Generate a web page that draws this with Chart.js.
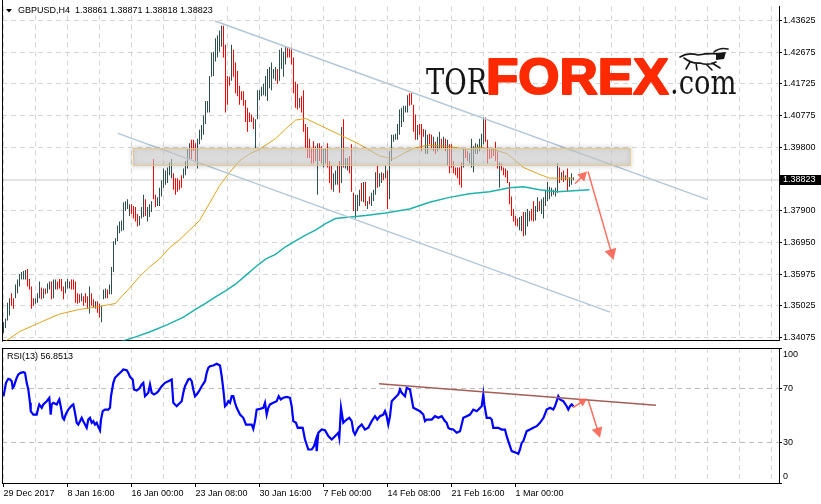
<!DOCTYPE html>
<html>
<head>
<meta charset="utf-8">
<title>GBPUSD H4</title>
<script src="https://cdn.jsdelivr.net/npm/chart.js@4.4.1/dist/chart.umd.min.js"></script>
<style>
html,body{margin:0;padding:0;background:#fff;overflow:hidden;}
#main{position:absolute;left:0;top:0;width:821px;height:347px;}
#sub{position:absolute;left:0;top:348px;width:821px;height:156px;}
</style>
</head>
<body>
<div id="main"><canvas id="c1"></canvas></div>
<div id="sub"><canvas id="c2"></canvas></div>
<script>
// ---------------- data ----------------
const symbol = 'GBPUSD,H4';
const ohlc = ['1.38861', '1.38871', '1.38818', '1.38823'];
const lastPrice = 1.38823;
const rsiName = 'RSI(13)';
const rsiLast = '56.8513';
const timeLabels = ['29 Dec 2017', '8 Jan 16:00', '16 Jan 00:00', '23 Jan 08:00', '30 Jan 16:00',
  '7 Feb 00:00', '14 Feb 08:00', '21 Feb 16:00', '1 Mar 00:00'];
const priceTicks = [1.43625, 1.42675, 1.41725, 1.40775, 1.39800, 1.37900, 1.36950, 1.35975, 1.35025, 1.34075];
const rsiTicks = [100, 70, 30, 0];

const highs = [
1.3453,1.3465,1.3512,1.3526,1.3541,1.3526,1.3567,1.3582,1.3599,1.3605,
1.3608,1.3611,1.3614,1.3584,1.3561,1.3526,1.3526,1.3541,1.3576,1.3558,
1.3555,1.3555,1.3570,1.3576,1.3576,1.3582,1.3582,1.3576,1.3584,1.3584,
1.3561,1.3576,1.3584,1.3576,1.3582,1.3582,1.3576,1.3541,1.3538,1.3541,
1.3532,1.3541,1.3532,1.3561,1.3541,1.3523,1.3517,1.3517,1.3509,1.3503,
1.3552,1.3555,1.3552,1.3567,1.3620,1.3698,1.3707,1.3745,1.3757,1.3760,
1.3815,1.3818,1.3824,1.3809,1.3809,1.3804,1.3801,1.3780,1.3774,1.3801,
1.3838,1.3824,1.3801,1.3809,1.3818,1.3946,1.3838,1.3830,1.3859,1.3882,
1.3917,1.3911,1.3920,1.3935,1.3946,1.3903,1.3888,1.3888,1.3882,1.3897,
1.3917,1.3940,1.3975,1.3993,1.4004,1.4004,1.3993,1.4007,1.4034,1.4048,
1.4077,1.4121,1.4121,1.4196,1.4266,1.4269,1.4310,1.4319,1.4333,1.4348,
1.4348,1.4290,1.4196,1.4194,1.4290,1.4275,1.4237,1.4211,1.4167,1.4150,
1.4150,1.4124,1.4100,1.4086,1.4080,1.4071,1.4066,1.4153,1.4153,1.4164,
1.4173,1.4196,1.4217,1.4223,1.4237,1.4217,1.4223,1.4217,1.4275,1.4281,
1.4269,1.4284,1.4281,1.4281,1.4281,1.4252,1.4179,1.4173,1.4130,1.4135,
1.4153,1.4051,1.4042,1.4007,1.3978,1.3999,1.3984,1.3993,1.3993,1.3984,
1.3978,1.3978,1.3993,1.3940,1.3926,1.3903,1.3911,1.3926,1.3940,1.4042,
1.4066,1.3949,1.3949,1.3955,1.3990,1.3844,1.3838,1.3838,1.3853,1.3873,
1.3876,1.3876,1.3818,1.3833,1.3844,1.3853,1.3906,1.3926,1.3903,1.3906,
1.3903,1.3926,1.3911,1.3969,1.4019,1.4019,1.4022,1.4051,1.4095,1.4100,
1.4106,1.4106,1.4138,1.4144,1.4144,1.4109,1.4080,1.4048,1.4051,1.4051,
1.4036,1.4034,1.4019,1.4022,1.4019,1.4013,1.3998,1.4013,1.4028,1.4007,
1.4013,1.4007,1.4004,1.3990,1.3990,1.3940,1.3920,1.3920,1.3920,1.3935,
1.3978,1.3975,1.3969,1.3964,1.4007,1.3984,1.3993,1.3990,1.4007,1.4022,
1.4071,1.4071,1.4004,1.3975,1.3978,1.3978,1.3998,1.3969,1.3935,1.3932,
1.3920,1.3917,1.3911,1.3876,1.3833,1.3795,1.3774,1.3766,1.3771,1.3774,
1.3786,1.3786,1.3795,1.3789,1.3795,1.3818,1.3804,1.3830,1.3818,1.3824,
1.3830,1.3853,1.3876,1.3862,1.3859,1.3853,1.3859,1.3932,1.3920,1.3906,
1.3911,1.3897,1.3917,1.3891,1.3903,1.3891];

const lows = [
1.3421,1.3436,1.3459,1.3474,1.3503,1.3494,1.3526,1.3541,1.3561,1.3582,
1.3582,1.3582,1.3561,1.3552,1.3494,1.3503,1.3509,1.3512,1.3526,1.3523,
1.3526,1.3538,1.3541,1.3552,1.3523,1.3526,1.3552,1.3552,1.3555,1.3547,
1.3523,1.3541,1.3555,1.3555,1.3552,1.3552,1.3512,1.3509,1.3512,1.3517,
1.3503,1.3512,1.3494,1.3480,1.3503,1.3497,1.3494,1.3482,1.3468,1.3453,
1.3523,1.3526,1.3526,1.3538,1.3538,1.3605,1.3687,1.3698,1.3722,1.3728,
1.3731,1.3789,1.3795,1.3774,1.3780,1.3766,1.3757,1.3742,1.3745,1.3766,
1.3771,1.3774,1.3757,1.3771,1.3786,1.3824,1.3801,1.3804,1.3804,1.3833,
1.3859,1.3868,1.3873,1.3897,1.3888,1.3853,1.3838,1.3847,1.3853,1.3859,
1.3888,1.3897,1.3917,1.3946,1.3946,1.3970,1.3940,1.3917,1.3990,1.4004,
1.4019,1.4051,1.4086,1.4086,1.4194,1.4196,1.4240,1.4252,1.4269,1.4284,
1.4252,1.4086,1.4109,1.4167,1.4182,1.4194,1.4144,1.4135,1.4109,1.4124,
1.4106,1.4057,1.4028,1.4057,1.4057,1.4036,1.3978,1.4066,1.4124,1.4135,
1.4138,1.4135,1.4121,1.4159,1.4153,1.4188,1.4182,1.4173,1.4182,1.4217,
1.4194,1.4231,1.4252,1.4252,1.4231,1.4144,1.4100,1.4095,1.4100,1.4086,
1.4028,1.3978,1.3949,1.3949,1.3932,1.3932,1.3940,1.3838,1.3940,1.3932,
1.3920,1.3932,1.3920,1.3873,1.3853,1.3847,1.3868,1.3868,1.3844,1.3873,
1.3920,1.3917,1.3911,1.3903,1.3847,1.3789,1.3766,1.3789,1.3804,1.3818,
1.3815,1.3804,1.3795,1.3809,1.3804,1.3818,1.3838,1.3859,1.3862,1.3873,
1.3882,1.3888,1.3795,1.3824,1.3940,1.3998,1.4004,1.4004,1.4019,1.4042,
1.4057,1.4086,1.4086,1.4106,1.4109,1.4028,1.4004,1.4004,1.4019,1.3969,
1.4013,1.3961,1.3961,1.3990,1.3975,1.3969,1.3961,1.3969,1.3975,1.3978,
1.3978,1.3969,1.3926,1.3903,1.3920,1.3903,1.3897,1.3888,1.3868,1.3859,
1.3920,1.3949,1.3940,1.3932,1.3920,1.3906,1.3961,1.3961,1.3969,1.3978,
1.3990,1.3998,1.3932,1.3946,1.3949,1.3955,1.3940,1.3917,1.3859,1.3911,
1.3897,1.3891,1.3873,1.3809,1.3774,1.3757,1.3745,1.3742,1.3731,1.3728,
1.3713,1.3716,1.3742,1.3757,1.3760,1.3757,1.3760,1.3786,1.3789,1.3780,
1.3766,1.3804,1.3818,1.3824,1.3833,1.3838,1.3833,1.3844,1.3873,1.3882,
1.3876,1.3882,1.3847,1.3862,1.3868,1.3882];

// u = bullish bar, d = bearish bar
const dirs = [
'uuuudduuuu','uudddduuud','uduuduuddd','duuudddddu','dddudduddu',
'uuduuuuuuu','uuuudddduu','uduuudduuu','uuuuuddddd','uuuuddduuu',
'uuuuuuuuuu','dddduddddd','dddddduuuu','uuuuuuuduu','uuddddddud',
'dddddddudd','uuddduuudu','duuddduuud','ududuuuduu','duduuuuuuu',
'uuuddddudd','duudduduud','ududdddddd','udduuuuuuu','udddddddud',
'dddddddduu','duuudduudu','uuuuuuuudu','duduuu'].join('');

// moving averages (bar index / value)
const maFastBars = [0,8,18,28,38,48,56,58,63,68,73,78,83,88,93,98,103,108,113,118,123,128,136,141,146,151,158,168,178,188,195,205,212,222,232,238,245,252,260,267,273,285];
const maFastValues = [1.3392,1.3425,1.3452,1.3478,1.3492,1.3501,1.3510,1.3524,1.3556,1.3591,1.3620,1.3644,1.3678,1.3702,1.3731,1.3760,1.3812,1.3865,1.3905,1.3940,1.3961,1.3975,1.4007,1.4036,1.4063,1.4068,1.4048,1.4019,1.3990,1.3955,1.3946,1.3978,1.3987,1.3984,1.3975,1.3981,1.3975,1.3961,1.3920,1.3902,1.3888,1.3888];
const maSlowBars = [57,65,73,82,90,96,101,106,111,116,121,126,131,136,141,146,151,156,161,166,171,181,191,203,213,223,233,243,253,260,268,277,293];
const maSlowValues = [1.3392,1.3407,1.3424,1.3446,1.3469,1.3492,1.3510,1.3530,1.3548,1.3568,1.3594,1.3620,1.3644,1.3658,1.3681,1.3699,1.3716,1.3731,1.3751,1.3766,1.3769,1.3775,1.3783,1.3795,1.3815,1.3830,1.3841,1.3847,1.3859,1.3862,1.3853,1.3847,1.3853];

// RSI (bar index / value)
const rsiBars = [
0,1.25,2.4,3.25,4.1,4.6,5.25,5.75,6.6,7.4,
8.6,9.9,10.75,11.6,12.4,13.25,13.6,14.9,16.6,17.4,
17.9,19.1,19.9,21.6,22.9,23.6,24.1,24.9,26.6,27.4,
27.9,28.6,29.6,30.25,31.1,32.4,34.1,34.9,35.75,36.6,
37.4,38.25,39.1,39.9,40.75,41.6,42.4,43.25,44.1,44.9,
45.75,46.6,47.4,48.25,48.75,49.6,50.75,52.4,53.25,53.75,
54.9,55.75,57.4,59.1,59.9,61.6,62.4,63.25,64.6,65.25,
66.6,67.9,69.1,69.9,70.75,71.6,72.4,73.25,74.1,75.25,
76.6,77.4,79.1,80.75,82.4,84.1,84.9,86.6,87.4,89.1,
89.9,90.75,91.6,92.4,93.25,94.1,94.9,95.75,96.6,97.75,
99.1,100.75,101.6,102.4,103.25,104.9,106.6,108.25,109.1,109.9,
110.75,111.6,112.4,113.25,114.1,114.9,115.75,116.6,118.25,119.9,
121.25,122.4,124.1,124.9,125.75,126.6,128.25,129.9,130.75,131.6,
132.4,133.25,134.9,136.6,137.6,138.6,139.9,141.6,143.25,144.1,
144.9,146.25,147.1,148.25,149.6,150.75,152.4,154.1,155.25,156.25,
156.6,157.4,159.1,160.75,162.4,164.1,165.75,167.4,167.9,168.75,
169.9,171.6,172.9,174.1,174.9,175.75,177.4,179.1,180.75,182.4,
184.1,185.75,186.9,188.25,189.9,190.75,191.6,192.4,193.25,194.1,
195.75,197.4,198.25,199.1,199.9,200.75,201.6,203.25,204.9,206.6,
208.25,209.9,210.75,211.6,214.1,215.75,217.4,219.1,220.75,221.6,
222.4,223.25,224.9,226.6,228.25,229.1,229.9,231.6,233.25,234.9,
236.6,239.1,239.9,240.4,241.6,243.25,244.1,244.9,247.4,249.1,
250.75,251.6,252.4,253.25,254.1,256.6,257.4,258.25,259.1,259.9,
260.75,261.6,263.25,264.9,266.6,268.25,270,271.6,273.25,274.9,
275.75,276.6,277.4,278.25,279.9,281.6,282.4,283.25,284.1,285];
const rsiValues = [
64.3,74.2,77.2,76.7,75.4,70.5,71.7,74.2,77.9,80.4,
81.6,82.1,81.6,74.2,69.3,59.4,53.2,50.7,50.7,55.7,
58.2,55.7,58.2,60.6,63.1,50.7,58.2,59.4,58.2,60.6,
61.9,56.9,48.3,47.0,50.7,54.4,57.4,58.2,52.0,44.6,
43.3,45.8,48.3,45.8,43.3,40.9,47.0,48.3,44.6,45.8,
43.3,44.6,41.6,39.1,47.0,53.2,54.4,54.4,55.7,64.3,
74.2,77.9,80.4,82.8,84.1,83.6,81.6,78.6,76.7,69.3,
68.5,70.0,73.0,74.2,64.3,65.6,66.8,73.0,66.8,65.6,
66.8,68.0,71.7,74.2,75.4,76.7,59.4,56.9,58.2,60.6,
66.8,71.7,74.2,76.7,77.2,75.4,69.3,64.3,65.6,68.0,
71.7,75.4,81.6,85.3,86.5,87.0,88.3,87.0,79.1,69.3,
56.9,58.2,60.6,59.4,64.3,64.3,59.4,55.7,50.7,48.3,
43.3,43.3,43.3,40.1,45.8,54.4,54.9,55.7,59.4,50.7,
55.7,58.2,59.4,60.6,64.3,61.9,63.1,63.8,63.1,56.9,
45.8,44.6,40.9,41.0,40.9,32.2,24.8,24.8,27.3,32.2,
23.6,37.2,39.6,39.1,34.7,32.2,34.7,37.2,33.5,55.7,
44.6,47.0,48.3,45.8,38.4,35.9,40.9,43.3,39.6,40.9,
45.8,49.5,47.0,49.5,50.7,53.2,49.5,43.3,49.5,60.6,
63.1,65.6,69.3,66.8,65.6,64.3,70.5,69.3,55.7,54.4,
53.2,50.7,45.8,47.0,47.0,49.5,48.3,49.5,45.8,44.6,
40.9,40.1,39.6,37.2,38.4,43.3,48.3,49.5,50.7,54.4,
53.2,56.9,65.6,58.2,48.3,48.3,47.0,40.9,40.9,39.6,
39.6,34.7,31.0,27.3,23.6,22.3,21.6,24.8,29.8,31.0,
34.7,38.4,39.6,40.9,42.1,44.6,48.3,54.4,55.7,54.4,
56.9,60.6,64.3,61.9,60.6,56.9,54.4,56.9,58.2,56.9];

// drawn analysis objects (bar index / price or RSI value)
const channelUpper = [[105.75, 1.4362], [351.75, 1.3824]];
const channelLower = [[57.25, 1.4023], [303.25, 1.3484]];
const zone = {from: 64.75, to: 313.25, high: 1.3978, low: 1.3926};
const priceArrows = [
  {from: [285.75, 1.3871], to: [291.75, 1.3908], head: 9},
  {from: [292.25, 1.3908], to: [305, 1.3641], head: 11}
];
const rsiTrend = [[187.75, 73.5], [326.25, 57.6]];
const rsiArrows = [
  {from: [284.75, 55.9], to: [291.75, 62.6], head: 8},
  {from: [292.25, 61.9], to: [298.25, 33.6], head: 10}
];

// ---------------- styling / layout ----------------
const FONT = '"Liberation Sans", Arial, sans-serif';
const UP = '#2F4F4F', DOWN = '#FF0000';
const GRID = '#d6d6d6', LEVEL = '#bdbdbd';
const ARROW = 'rgba(248,98,82,0.9)';
const xMin = -0.75, xMax = 387.75;
const yMin = 1.3398, yMax = 1.4406;
const GRID_STEP = 16, LABEL_STEP = 32;
const gridTicks = [];
for (let v = 0; v <= xMax; v += GRID_STEP) gridTicks.push(v);

function labelFor(v) {
  if (v % LABEL_STEP !== 0) return '';
  const k = v / LABEL_STEP;
  return k < timeLabels.length ? timeLabels[k] : '';
}
function pts(bars, vals) { return bars.map((b, k) => ({x: b, y: vals[k]})); }
function pairPts(arr) { return arr.map(p => ({x: p[0], y: p[1]})); }

function drawArrow(ctx, x1, y1, x2, y2, head) {
  const a = Math.atan2(y2 - y1, x2 - x1), c = Math.cos(a), s = Math.sin(a);
  const bx = x2 - head * c, by = y2 - head * s, hw = head * 0.55;
  ctx.beginPath(); ctx.moveTo(x1, y1); ctx.lineTo(bx + 2 * c, by + 2 * s); ctx.stroke();
  ctx.beginPath(); ctx.moveTo(x2, y2);
  ctx.lineTo(bx - hw * s, by + hw * c); ctx.lineTo(bx + hw * s, by - hw * c);
  ctx.closePath(); ctx.fill();
}
function drawArrows(chart, list) {
  const {ctx, scales: {x, y}} = chart;
  ctx.save();
  ctx.strokeStyle = ARROW; ctx.fillStyle = ARROW; ctx.lineWidth = 1.5;
  list.forEach(a => drawArrow(ctx, x.getPixelForValue(a.from[0]), y.getPixelForValue(a.from[1]),
    x.getPixelForValue(a.to[0]), y.getPixelForValue(a.to[1]), a.head));
  ctx.restore();
}

function drawBull(ctx) {
  // small line-art emblem above ".com"
  ctx.save();
  ctx.strokeStyle = '#161616'; ctx.fillStyle = '#161616'; ctx.lineWidth = 1.6; ctx.lineCap = 'round'; ctx.lineJoin = 'round';
  ctx.beginPath();
  ctx.moveTo(680, 57); ctx.quadraticCurveTo(688, 52, 698, 55);
  ctx.quadraticCurveTo(710, 53, 718, 54);
  ctx.moveTo(684, 58); ctx.quadraticCurveTo(692, 64, 700, 63);
  ctx.quadraticCurveTo(708, 66, 716, 62);
  ctx.moveTo(690, 62); ctx.lineTo(686, 69);
  ctx.moveTo(696, 63); ctx.lineTo(697, 70);
  ctx.moveTo(706, 64); ctx.lineTo(712, 70);
  ctx.moveTo(712, 63); ctx.lineTo(720, 68);
  ctx.moveTo(714, 52); ctx.quadraticCurveTo(720, 47, 728, 49);
  ctx.stroke();
  ctx.beginPath();
  ctx.moveTo(716, 53); ctx.lineTo(726, 52); ctx.lineTo(724, 59); ctx.lineTo(716, 60); ctx.closePath(); ctx.fill();
  ctx.restore();
}

function drawLogo(ctx) {
  ctx.save();
  ctx.textBaseline = 'alphabetic'; ctx.textAlign = 'left';
  ctx.fillStyle = '#161616';
  ctx.font = '36px "DejaVu Serif", serif';
  ctx.save(); ctx.translate(426, 94); ctx.scale(0.76, 1); ctx.fillText('TOR', 0, 0); ctx.restore();
  ctx.fillStyle = '#FF2A00'; ctx.strokeStyle = '#FF2A00'; ctx.lineWidth = 2; ctx.lineJoin = 'round';
  ctx.font = 'bold 50px ' + FONT;
  ctx.save(); ctx.translate(486, 94); ctx.scale(1.06, 1); ctx.fillText('FOREX', 0, 0); ctx.strokeText('FOREX', 0, 0); ctx.restore();
  ctx.fillStyle = '#161616';
  ctx.font = '33px "DejaVu Serif", serif';
  ctx.save(); ctx.translate(670, 94); ctx.scale(0.83, 1); ctx.fillText('.com', 0, 0); ctx.restore();
  ctx.restore();
  drawBull(ctx);
}

const mainDecor = {
  id: 'mainDecor',
  beforeDatasetsDraw(chart) { drawLogo(chart.ctx); },
  afterDatasetsDraw(chart) {
    const {ctx, scales: {x, y}} = chart;
    const x1 = x.getPixelForValue(zone.from), x2 = x.getPixelForValue(zone.to);
    const y1 = y.getPixelForValue(zone.high), y2 = y.getPixelForValue(zone.low);
    ctx.save();
    ctx.filter = 'blur(2px)';
    ctx.strokeStyle = 'rgba(0,0,0,0.18)'; ctx.lineWidth = 3;
    ctx.strokeRect(x1, y1, x2 - x1, y2 - y1);
    ctx.filter = 'none';
    ctx.fillStyle = 'rgba(195,195,195,0.6)';
    ctx.fillRect(x1, y1, x2 - x1, y2 - y1);
    ctx.strokeStyle = 'rgba(232,200,125,0.8)'; ctx.lineWidth = 1;
    ctx.strokeRect(Math.round(x1) + 0.5, Math.round(y1) + 0.5, Math.round(x2 - x1), Math.round(y2 - y1));
    ctx.restore();
    drawArrows(chart, priceArrows);
  },
  afterDraw(chart) {
    const {ctx, chartArea, scales: {y}} = chart;
    ctx.save();
    ctx.strokeStyle = '#000'; ctx.lineWidth = 1;
    ctx.beginPath(); ctx.moveTo(chartArea.left + 0.5, 0); ctx.lineTo(chartArea.left + 0.5, chartArea.bottom + 1); ctx.stroke();
    ctx.fillStyle = '#000';
    ctx.beginPath(); ctx.moveTo(6, 9); ctx.lineTo(12, 9); ctx.lineTo(9, 12.5); ctx.closePath(); ctx.fill();
    ctx.font = '9px ' + FONT; ctx.textBaseline = 'middle'; ctx.textAlign = 'left';
    ctx.fillText(symbol + '  ' + ohlc.join(' '), 18, 11);
    const py = Math.round(y.getPixelForValue(lastPrice));
    ctx.fillRect(780, py - 5, 41, 10);
    ctx.fillStyle = '#fff';
    ctx.fillText(lastPrice.toFixed(5), 783, py);
    ctx.restore();
  }
};

const rsiDecor = {
  id: 'rsiDecor',
  afterDatasetsDraw(chart) { drawArrows(chart, rsiArrows); },
  afterDraw(chart) {
    const {ctx, chartArea, scales: {y}} = chart;
    ctx.save();
    ctx.strokeStyle = '#000'; ctx.lineWidth = 1;
    ctx.beginPath(); ctx.moveTo(chartArea.left + 0.5, 0); ctx.lineTo(chartArea.left + 0.5, chartArea.bottom); ctx.stroke();
    ctx.beginPath(); ctx.moveTo(chartArea.left, 0.5); ctx.lineTo(chartArea.right, 0.5); ctx.stroke();
    ctx.fillStyle = '#000'; ctx.font = '9px ' + FONT; ctx.textBaseline = 'middle'; ctx.textAlign = 'left';
    rsiTicks.forEach(v => {
      let py = y.getPixelForValue(v);
      py = Math.min(Math.max(py, chartArea.top + 7), chartArea.bottom - 6);
      ctx.fillText(String(v), 783, py);
    });
    ctx.fillText(rsiName + ' ' + rsiLast, 7, 9);
    ctx.restore();
  }
};

const common = {
  responsive: true, maintainAspectRatio: false, animation: false, events: [],
  plugins: {legend: {display: false}, tooltip: {enabled: false}}
};

new Chart(document.getElementById('c1'), {
  type: 'line',
  data: {datasets: [
    {type: 'bar', data: highs.map((h, i) => ({x: i, y: [lows[i], h]})),
      backgroundColor: dirs.split('').map(d => d === 'u' ? UP : DOWN),
      barThickness: 1, borderWidth: 0, inflateAmount: 0, borderSkipped: false, order: 10},
    {type: 'line', data: [{x: xMin, y: lastPrice}, {x: xMax, y: lastPrice}], borderColor: '#c8c8c8', borderWidth: 1, pointRadius: 0, order: 12},
    {type: 'line', data: pts(maFastBars, maFastValues), borderColor: '#DAA520', borderWidth: 1, pointRadius: 0, tension: 0, order: 6},
    {type: 'line', data: pts(maSlowBars, maSlowValues), borderColor: '#20B2AA', borderWidth: 1.5, pointRadius: 0, tension: 0, order: 5},
    {type: 'line', data: pairPts(channelUpper), borderColor: '#b3c7d6', borderWidth: 1.5, pointRadius: 0, order: 4},
    {type: 'line', data: pairPts(channelLower), borderColor: '#b3c7d6', borderWidth: 1.5, pointRadius: 0, order: 4}
  ]},
  options: Object.assign({}, common, {
    layout: {padding: {left: 2, right: 0, top: 0, bottom: 1}, autoPadding: false},
    scales: {
      x: {type: 'linear', min: xMin, max: xMax, offset: false,
        afterBuildTicks: s => { s.ticks = gridTicks.map(v => ({value: v})); },
        ticks: {display: false},
        grid: {color: GRID, drawTicks: false, offset: false},
        border: {display: true, color: '#000', dash: [5, 4]},
        afterFit: s => { s.height = 0; }},
      y: {type: 'linear', position: 'right', min: yMin, max: yMax,
        afterBuildTicks: s => { s.ticks = priceTicks.map(v => ({value: v})); },
        ticks: {autoSkip: false, callback: v => Number(v).toFixed(5), color: '#000', font: {family: FONT, size: 9}, padding: 1},
        grid: {color: GRID, tickColor: '#000', tickLength: 3},
        border: {display: true, color: '#000', dash: [5, 4]},
        afterFit: s => { s.width = 42; }}
    }
  }),
  plugins: [mainDecor]
});

new Chart(document.getElementById('c2'), {
  type: 'line',
  data: {datasets: [
    {data: pts(rsiBars, rsiValues), borderColor: '#0000FF', borderWidth: 2.2, pointRadius: 0, tension: 0, order: 2},
    {data: pairPts(rsiTrend), borderColor: '#a35e58', borderWidth: 1.5, pointRadius: 0, order: 1}
  ]},
  options: Object.assign({}, common, {
    layout: {padding: {left: 2, right: 0, top: 0, bottom: 0}, autoPadding: false},
    scales: {
      x: {type: 'linear', min: xMin, max: xMax, offset: false,
        afterBuildTicks: s => { s.ticks = gridTicks.map(v => ({value: v})); },
        ticks: {autoSkip: false, maxRotation: 0, minRotation: 0, align: 'start', padding: 1,
          color: '#000', font: {family: FONT, size: 9}, callback: v => labelFor(v)},
        grid: {color: GRID, tickLength: 4, offset: false,
          tickColor: c => (c.tick && labelFor(c.tick.value)) ? '#000' : 'rgba(0,0,0,0)'},
        border: {display: true, color: '#000', dash: [5, 4]},
        afterFit: s => { s.height = 21; }},
      y: {type: 'linear', position: 'right', min: 0, max: 100,
        afterBuildTicks: s => { s.ticks = rsiTicks.map(v => ({value: v})); },
        ticks: {display: false},
        grid: {color: c => (c.tick && (c.tick.value === 30 || c.tick.value === 70)) ? LEVEL : 'rgba(0,0,0,0)',
          tickColor: '#000', tickLength: 3},
        border: {display: true, color: '#000', dash: [5, 4]},
        afterFit: s => { s.width = 42; }}
    }
  }),
  plugins: [rsiDecor]
});
</script>
</body>
</html>
